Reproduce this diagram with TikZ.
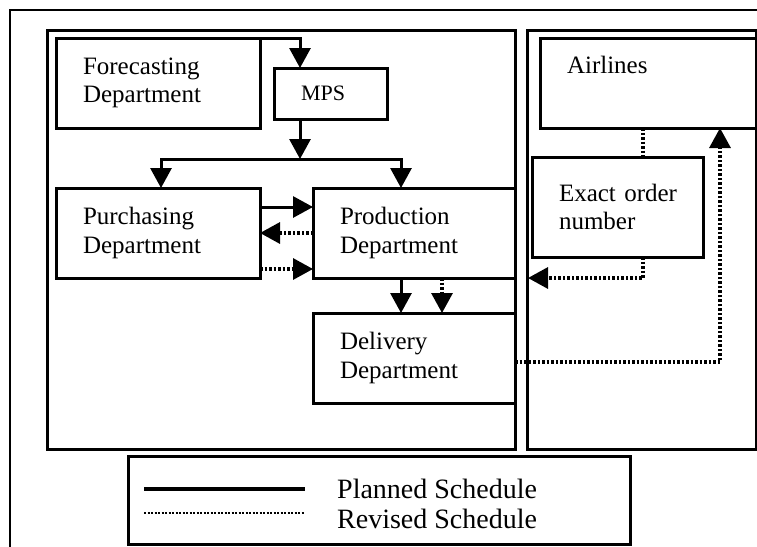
\documentclass[tikz,border=0pt]{standalone}
\usepackage{fontspec}
\setmainfont{Liberation Serif}
\usetikzlibrary{arrows.meta,calc}
\begin{document}
\begin{tikzpicture}[x=1pt,y=-1pt,
  box/.style={draw, line width=3pt, align=left, inner xsep=27pt, inner ysep=0pt,
    outer sep=0pt, font=\fontsize{25}{28.5}\selectfont},
  frame/.style={line width=3pt},
  conn/.style={line width=3pt},
  dotconn/.style={line width=3.2pt, dash pattern=on 2.5pt off 2pt},
  tip/.style={-{Triangle[width=21pt,length=20pt]}},
  tips/.style={{Triangle[width=21pt,length=20pt]}-{Triangle[width=21pt,length=20pt]}},
  legtext/.style={anchor=base west, inner sep=0pt, font=\fontsize{28}{31}\selectfont}
]
\useasboundingbox (0,0) rectangle (757,546);
\fill[white] (0,0) rectangle (757,546);

% outer frame and containers
\draw[line width=2.2pt] (10,552) -- (10,10) -- (762,10);
\draw[frame] (47,30) rectangle (515,449);
\draw[frame] (527,30) rectangle (756,449);

% boxes
\node[box, text width=150pt, minimum height=90pt] (fc) at (158,83) {Forecasting\\Department};
\node[box, text width=59pt, minimum height=51pt, font=\fontsize{22}{24}\selectfont] (mps) at (330.5,93.5) {MPS};
\node[box, text width=150pt, minimum height=90pt] (pur) at (158,233) {Purchasing\\Department};
\node[box, text width=148pt, minimum height=90pt] (pro) at (414,233) {Production\\Department};
\node[box, text width=148pt, minimum height=90pt] (del) at (414,358) {Delivery\\Department};
\node[box, text width=162pt, minimum height=90pt] (air) at (648,83) {Airlines\\\strut};
\node[box, text width=117pt, minimum height=100pt] (ex) at (617.5,207) {\mbox{Exact order}\\number};

% helper coordinates
\coordinate (jm) at (300,159);
\coordinate (bl) at (161,159);
\coordinate (bre) at (401,159);
\coordinate (ya) at (0,207);
\coordinate (yb) at (0,233);
\coordinate (yc) at (0,269);
\coordinate (xd) at (442,0);
\coordinate (xe) at (643,0);
\coordinate (xa) at (720,0);
\coordinate (yd) at (0,362);
\coordinate (exin) at (528,278);

% planned (solid) connectors
\draw[conn, tip] (fc.north east) -| (mps.north -| jm);
\draw[conn, tip] (mps.south -| jm) -- (jm);
\draw[conn, tips] (pur.north -| bl) |- (bre) -- (pro.north -| bre);
\draw[conn, tip] (pur.east |- ya) -- (pro.west |- ya);
\draw[conn, tip] (pro.south -| bre) -- (del.north -| bre);

% revised (dotted) connectors
\draw[dotconn, tip] (pro.west |- yb) -- (pur.east |- yb);
\draw[dotconn, tip] (pur.east |- yc) -- (pro.west |- yc);
\draw[dotconn, tip] (pro.south -| xd) -- (del.north -| xd);
\draw[dotconn] (air.south -| xe) -- (ex.north -| xe);
\draw[dotconn, tip] (ex.south -| xe) |- (exin);
\draw[dotconn, tip] (del.east |- yd) -| (air.south -| xa);

% legend
\node[draw, line width=3pt, minimum width=502pt, minimum height=88pt, inner sep=0pt, outer sep=0pt] (leg) at (379,500) {};
\coordinate (ls1) at (144,489);
\coordinate (le1) at (305,489);
\coordinate (ls2) at (144,513);
\coordinate (le2) at (305,513);
\draw[line width=3.5pt] (ls1) -- (le1);
\draw[line width=2.8pt, dash pattern=on 2pt off 1.5pt] (ls2) -- (le2);
\node[legtext] (lp) at (337,498) {Planned Schedule};
\node[legtext] (lr) at (337,528) {Revised Schedule};
\end{tikzpicture}
\end{document}
